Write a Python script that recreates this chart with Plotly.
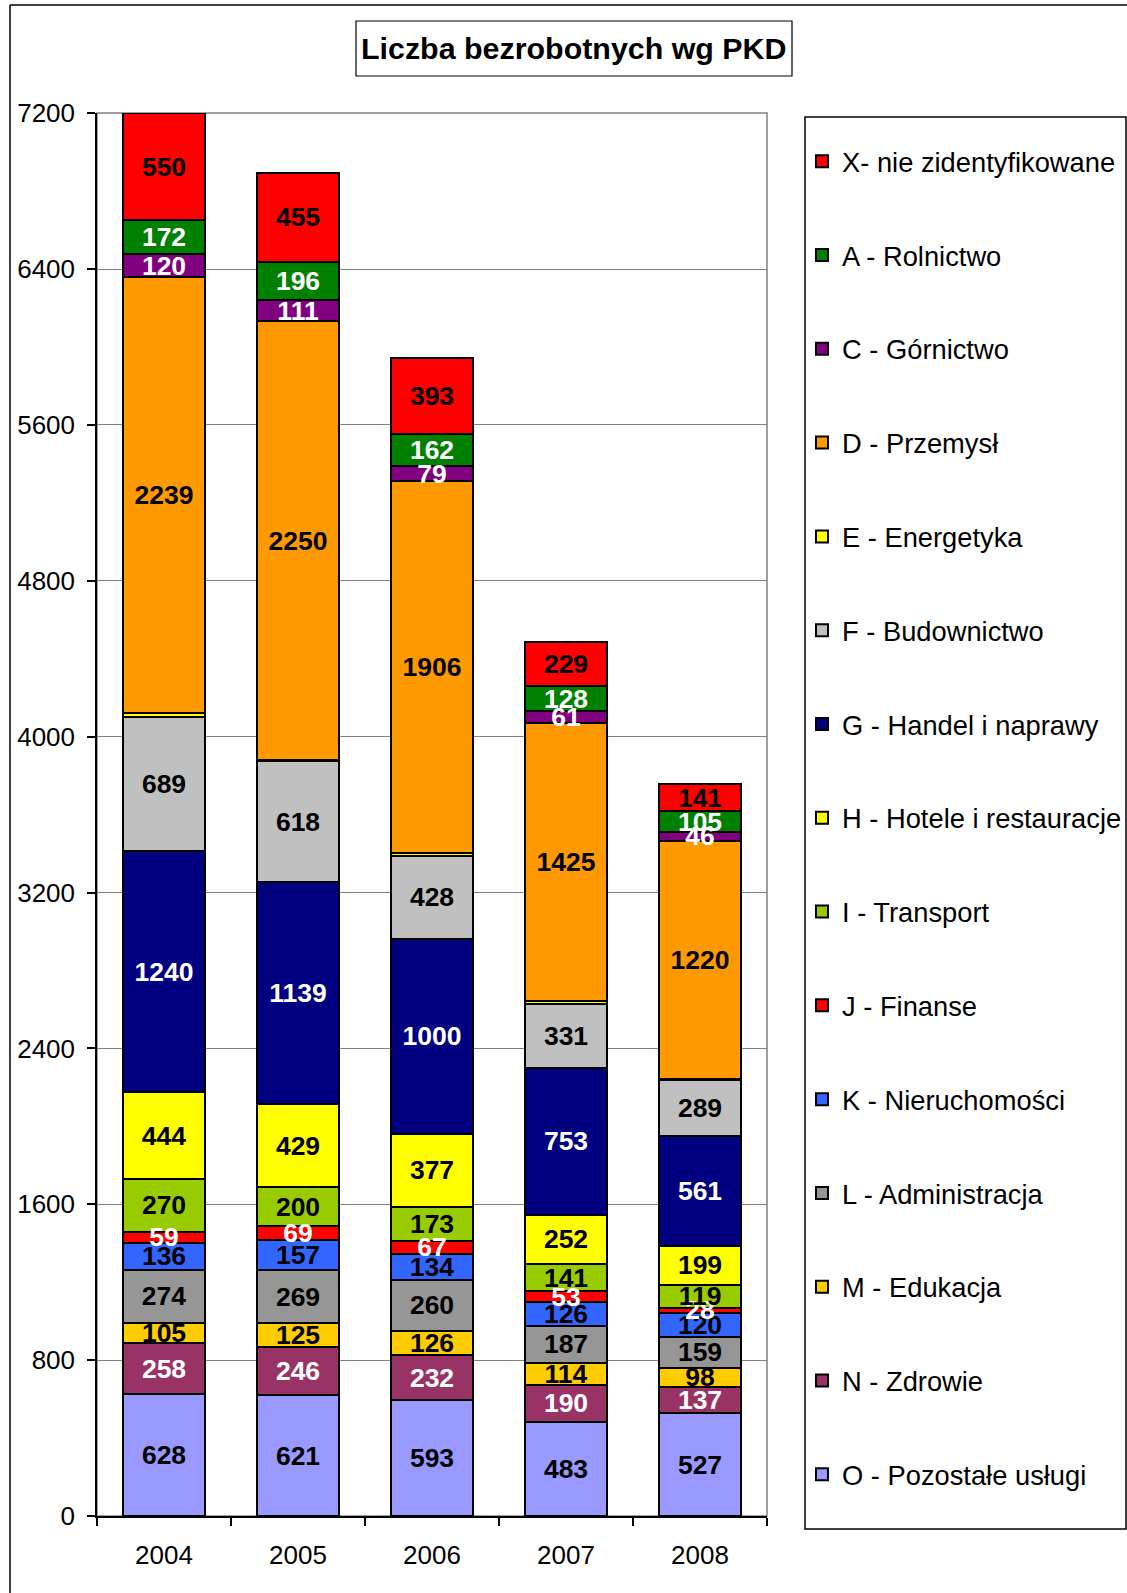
import plotly.graph_objects as go

years = ["2004", "2005", "2006", "2007", "2008"]

# stack order bottom -> top
series_names = [
    "O - Pozostałe usługi",
    "N - Zdrowie",
    "M - Edukacja",
    "L - Administracja",
    "K - Nieruchomości",
    "J - Finanse",
    "I - Transport",
    "H - Hotele i restauracje",
    "G - Handel i naprawy",
    "F - Budownictwo",
    "E - Energetyka",
    "D - Przemysł",
    "C - Górnictwo",
    "A - Rolnictwo",
    "X- nie zidentyfikowane",
]

O = [628, 621, 593, 483, 527]
N = [258, 246, 232, 190, 137]
M = [105, 125, 126, 114, 98]
L = [274, 269, 260, 187, 159]
K = [136, 157, 134, 126, 120]
J = [59, 69, 67, 53, 28]
I = [270, 200, 173, 141, 119]
H = [444, 429, 377, 252, 199]
G = [1240, 1139, 1000, 753, 561]
F = [689, 618, 428, 331, 289]
E = [16, 8, 14, 15, 8]
D = [2239, 2250, 1906, 1425, 1220]
C = [120, 111, 79, 61, 46]
A = [172, 196, 162, 128, 105]
X = [550, 455, 393, 229, 141]

series_values = [O, N, M, L, K, J, I, H, G, F, E, D, C, A, X]
series_colors = ["#9999FF", "#993366", "#FFCC00", "#969696", "#3366FF", "#FF0000",
                 "#99CC00", "#FFFF00", "#000080", "#C0C0C0", "#FFFF00", "#FF9900",
                 "#800080", "#008000", "#FF0000"]
label_colors = ["black", "white", "black", "black", "black", "white",
                "black", "black", "white", "black", None, "black",
                "white", "white", "black"]

y_ticks = [0, 800, 1600, 2400, 3200, 4000, 4800, 5600, 6400, 7200]

FONT = "Arial, Liberation Sans, sans-serif"

W, H_ = 1127, 1593
PL, PR, PT, PB = 97, 767, 113, 1516


def px(xp):
    return (xp - PL) / (PR - PL)


def py(yp):
    return (PB - yp) / (PB - PT)


fig = go.Figure()
n = len(series_names)
# visible bars (with legend)
for i, (name, vals, col) in enumerate(zip(series_names, series_values, series_colors)):
    fig.add_trace(go.Bar(
        x=years, y=vals, name=name, legendgroup=name, legendrank=n - i,
        marker=dict(color=col, line=dict(color="black", width=2)),
        cliponaxis=False, hoverinfo="skip"))

# label layer on an overlaid, identical subplot so labels sit above all bars
for name, vals, lc in zip(series_names, series_values, label_colors):
    kw = {}
    if lc is not None:
        kw = dict(text=[str(v) for v in vals], textposition="inside",
                  insidetextanchor="middle", textangle=0, constraintext="none",
                  textfont=dict(family=FONT, size=26.5, color=lc, weight="bold"))
    fig.add_trace(go.Bar(
        x=years, y=vals, name=name, showlegend=False, xaxis="x2", yaxis="y2",
        marker=dict(color="rgba(0,0,0,0)", line=dict(width=0)),
        cliponaxis=False, hoverinfo="skip", **kw))

shapes = [
    # plot area frame (gray)
    dict(type="rect", xref="paper", yref="paper", x0=0, y0=0, x1=1, y1=1,
         line=dict(color="#808080", width=1.5), layer="below"),
    # legend box
    dict(type="rect", xref="paper", yref="paper", x0=px(805), x1=px(1126),
         y0=py(1529), y1=py(117), line=dict(color="black", width=1.5)),
    # title box
    dict(type="rect", xref="paper", yref="paper", x0=px(356), x1=px(792),
         y0=py(76), y1=py(21), line=dict(color="black", width=1.2)),
    # outer chart border (top and left)
    dict(type="line", xref="paper", yref="paper", x0=px(10), x1=px(1130),
         y0=py(5), y1=py(5), line=dict(color="black", width=1.5)),
    dict(type="line", xref="paper", yref="paper", x0=px(10), x1=px(10),
         y0=py(5), y1=py(1600), line=dict(color="black", width=1.5)),
]

fig.update_layout(
    width=W, height=H_,
    margin=dict(l=PL, r=W - PR, t=PT, b=H_ - PB, pad=0, autoexpand=False),
    paper_bgcolor="white", plot_bgcolor="white",
    barmode="stack", bargap=0.385,
    font=dict(family=FONT, size=25, color="black"),
    showlegend=True,
    legend=dict(x=px(802), xanchor="left", y=py(137), yanchor="top",
                traceorder="grouped", tracegroupgap=55.3, maxheight=1500,
                font=dict(family=FONT, size=27.3, color="black"),
                bgcolor="rgba(0,0,0,0)", borderwidth=0),
    shapes=shapes,
    annotations=[dict(text="<b>Liczba bezrobotnych wg PKD</b>", xref="paper", yref="paper",
                      x=px(574), y=py(48.5), xanchor="center", yanchor="middle",
                      showarrow=False, font=dict(family=FONT, size=30.4, color="black"))],
    yaxis=dict(range=[0, 7201], tickvals=y_ticks, ticktext=[str(v) for v in y_ticks],
               showgrid=True, gridcolor="#808080", gridwidth=1,
               showline=True, linecolor="black", linewidth=1.5,
               ticks="outside", ticklen=8, tickcolor="black", tickwidth=1.5,
               ticklabelstandoff=7, zeroline=False,
               tickfont=dict(family=FONT, size=26, color="black")),
    xaxis=dict(type="category", categoryorder="array", categoryarray=years,
               showline=True, linecolor="black", linewidth=1.5,
               ticks="outside", ticklen=8, tickcolor="black", tickwidth=1.5,
               tickson="boundaries", ticklabelstandoff=15, showgrid=False,
               tickfont=dict(family=FONT, size=26, color="black")),
    xaxis2=dict(type="category", categoryorder="array", categoryarray=years,
                overlaying="x", matches="x", visible=False, showgrid=False),
    yaxis2=dict(range=[0, 7201], overlaying="y", visible=False, showgrid=False,
                zeroline=False),
)

fig.write_html("out.html", config={"displayModeBar": False},
               post_script="document.body.style.margin='0';")
